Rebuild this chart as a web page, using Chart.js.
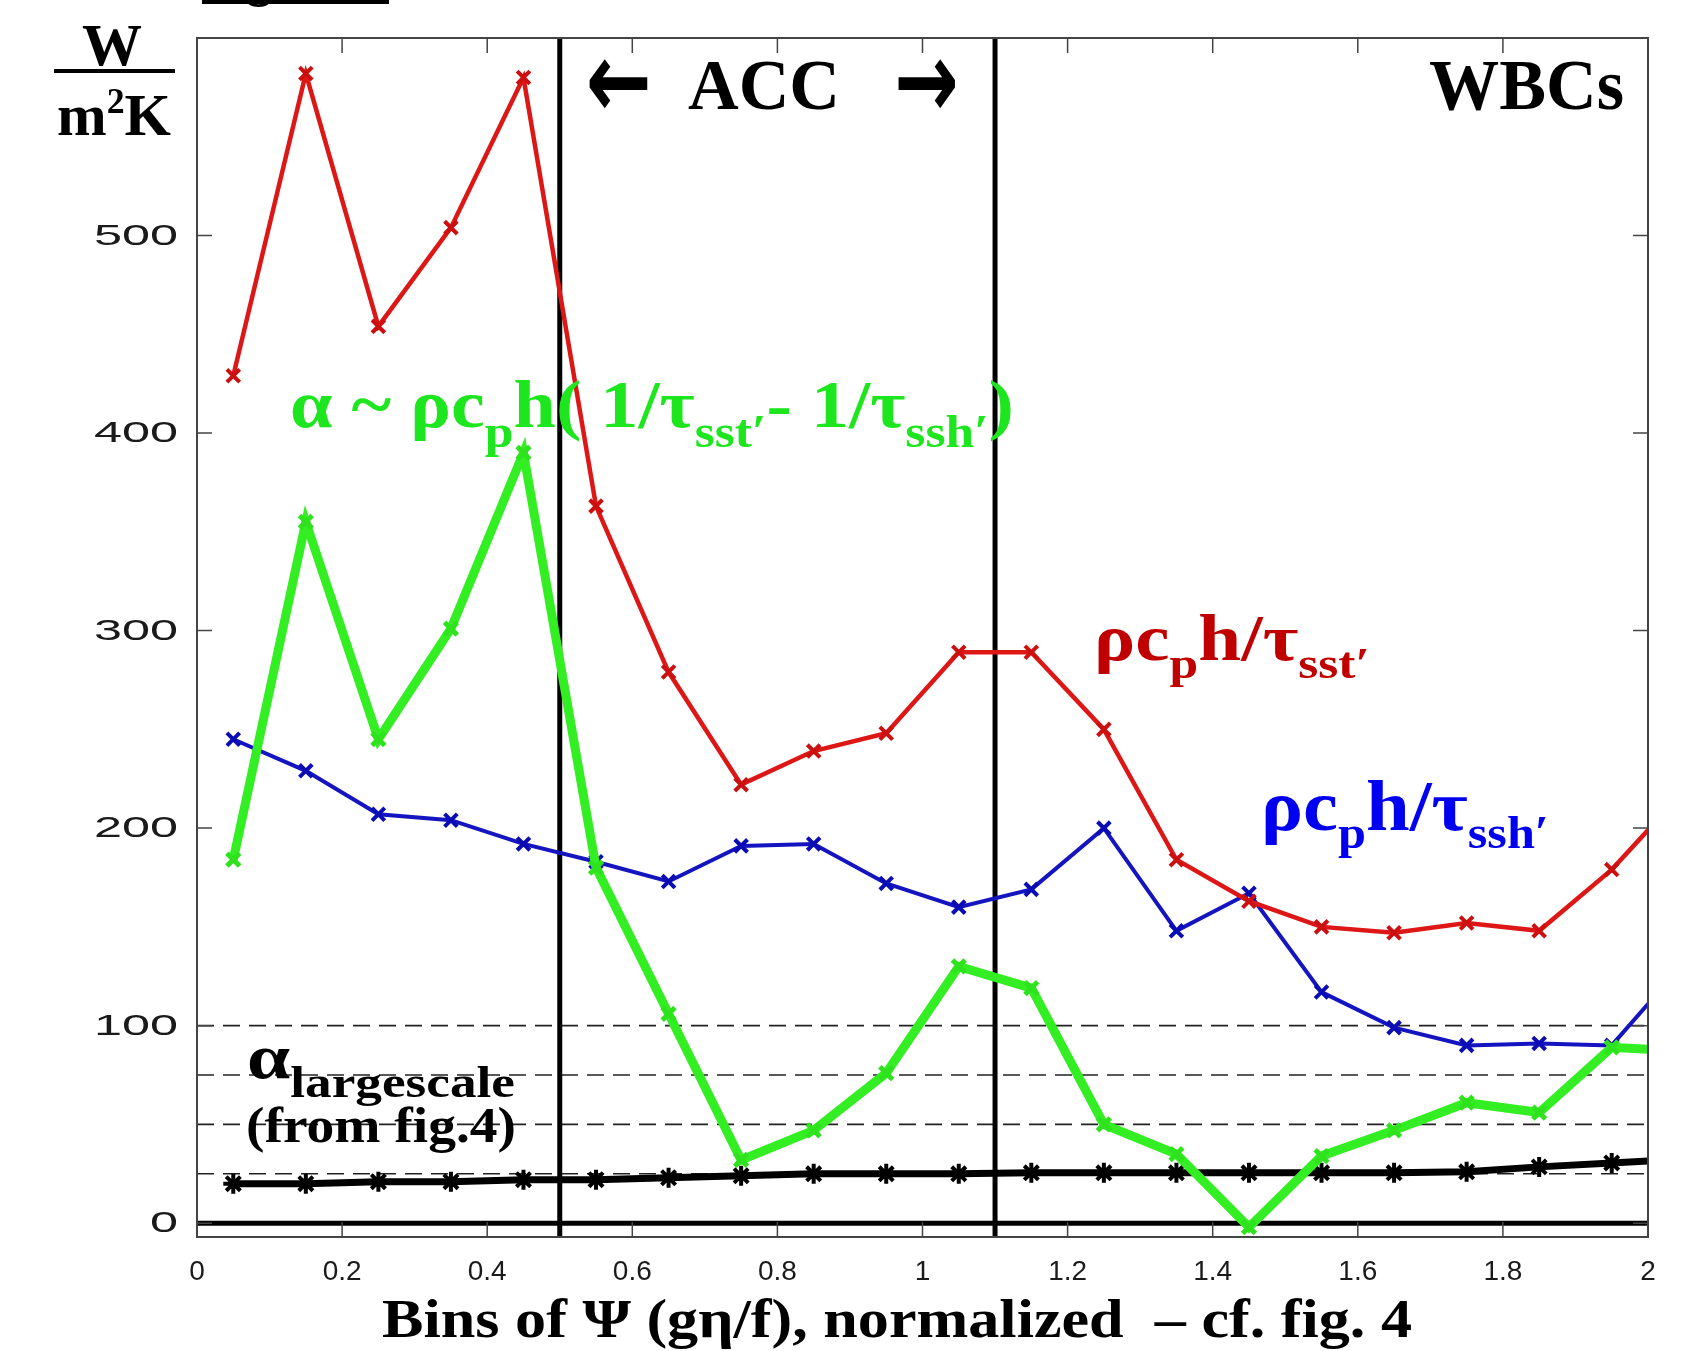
<!DOCTYPE html>
<html>
<head>
<meta charset="utf-8">
<script src="https://cdn.jsdelivr.net/npm/chart.js@4/dist/chart.umd.min.js"></script>
<style>
  html, body { margin: 0; padding: 0; background: #fff; }
  canvas { display: block; }
</style>
</head>
<body>
<canvas id="myChart" width="1691" height="1351"></canvas>
<script>
// bin centres of Psi (normalized); last one sits just past the right edge
const bins = [0.05, 0.15, 0.25, 0.35, 0.45, 0.55, 0.65, 0.75, 0.85, 0.95,
              1.05, 1.15, 1.25, 1.35, 1.45, 1.55, 1.65, 1.75, 1.85, 1.95, 2.05];

// rho cp h / tau_sst'  (red)
const sstRate = [429, 582, 454, 504, 580, 363, 279, 222, 239, 248,
                 289, 289, 250, 184, 163, 150, 147, 152, 148, 179, 219];
// rho cp h / tau_ssh'  (blue)
const sshRate = [245, 229, 207, 204, 192, 183, 173, 191, 192, 172,
                 160, 169, 200, 148, 167, 117, 99, 90, 91, 90, 132];
// alpha ~ difference (green)
const alphaDiff = [184, 355, 245, 301, 390, 180, 106, 32, 47, 76,
                   130, 119, 50, 35, -2, 34, 47, 61, 56, 89, 87];
// alpha largescale from fig.4 (black)
const alphaLarge = [20, 20, 21, 21, 22, 22, 23, 24, 25, 25,
                    25, 25.5, 25.5, 25.5, 25.5, 25.5, 25.5, 26, 28.5, 30.5, 32.5];

const xTicks = [0, 0.2, 0.4, 0.6, 0.8, 1, 1.2, 1.4, 1.6, 1.8, 2];
const yTicks = [0, 100, 200, 300, 400, 500];
const accBounds = [0.5, 1.1];          // vertical lines around the ACC
const dashLevels = [25, 50, 75, 100];  // dashed reference levels

const xMin = 0, xMax = 2, yMin = -7, yMax = 600;

const serif = '"Liberation Serif", "DejaVu Serif", serif';
const sans = '"Liberation Sans", Arial, sans-serif';

function pts(ys) {
  return bins.map((x, i) => ({x: x, y: ys[i]}));
}

let datasets = [
  {label: 'alpha', data: pts(alphaDiff), borderColor: '#33ee22', backgroundColor: '#33ee22',
   borderWidth: 9, pointStyle: 'crossRot', pointRadius: 9, pointBorderWidth: 5, pointBorderColor: '#2ee21e'},
  {label: 'sst', data: pts(sstRate), borderColor: '#dd1616', backgroundColor: '#dd1616',
   borderWidth: 4.5, pointStyle: 'crossRot', pointRadius: 9, pointBorderWidth: 4, pointBorderColor: '#cc1010'},
  {label: 'ssh', data: pts(sshRate), borderColor: '#1414c0', backgroundColor: '#1414c0',
   borderWidth: 4, pointStyle: 'crossRot', pointRadius: 9, pointBorderWidth: 4, pointBorderColor: '#0c0cb4'},
  {label: 'large', data: pts(alphaLarge), borderColor: '#000', backgroundColor: '#000',
   borderWidth: 7, pointStyle: 'star', pointRadius: 10, pointBorderWidth: 4}
];

// vertical ACC boundaries
accBounds.forEach(b => {
  datasets.push({data: [{x: b, y: yMin}, {x: b, y: yMax}], borderColor: '#000',
                 borderWidth: 5, pointRadius: 0});
});
// zero line
datasets.push({data: [{x: xMin, y: 0}, {x: xMax, y: 0}], borderColor: '#000',
               borderWidth: 5, pointRadius: 0});
// dashed levels
dashLevels.forEach(l => {
  datasets.push({data: [{x: xMin, y: l}, {x: xMax, y: l}], borderColor: '#222',
                 borderWidth: 1.6, borderDash: [17, 9], pointRadius: 0});
});

datasets.forEach(d => { d.clip = 0; d.tension = 0; d.fill = false; });

// draws a run of text pieces (with subscripts) squeezed into a given width
function drawRich(ctx, parts, x, y, width, color) {
  ctx.save();
  let total = 0;
  parts.forEach(p => {
    ctx.font = 'bold ' + p.size + 'px ' + (p.family || serif);
    p.w = ctx.measureText(p.t).width;
    total += p.w;
  });
  ctx.translate(x, y);
  ctx.scale(width / total, 1);
  ctx.fillStyle = color;
  ctx.textAlign = 'left';
  ctx.textBaseline = 'alphabetic';
  let cx = 0;
  parts.forEach(p => {
    ctx.font = 'bold ' + p.size + 'px ' + (p.family || serif);
    ctx.fillText(p.t, cx, p.dy || 0);
    cx += p.w;
  });
  ctx.restore();
}

// fits one glyph into a box (used for the heavy arrows)
function drawBox(ctx, t, font, left, top, w, h, color) {
  ctx.save();
  ctx.font = font;
  ctx.textAlign = 'left';
  ctx.textBaseline = 'alphabetic';
  const m = ctx.measureText(t);
  const gw = m.actualBoundingBoxLeft + m.actualBoundingBoxRight;
  const gh = m.actualBoundingBoxAscent + m.actualBoundingBoxDescent;
  ctx.translate(left, top);
  ctx.scale(w / gw, h / gh);
  ctx.fillStyle = color;
  ctx.fillText(t, m.actualBoundingBoxLeft, m.actualBoundingBoxAscent);
  ctx.restore();
}

const decor = {
  id: 'decor',
  afterDraw(chart) {
    const ctx = chart.ctx;
    const a = chart.chartArea;
    const xs = chart.scales.x, ys = chart.scales.y;

    // frame and inward ticks
    ctx.save();
    ctx.strokeStyle = '#444';
    ctx.lineWidth = 2;
    ctx.strokeRect(a.left, a.top, a.right - a.left, a.bottom - a.top);
    ctx.lineWidth = 1.5;
    ctx.beginPath();
    xTicks.forEach(v => {
      const px = xs.getPixelForValue(v);
      ctx.moveTo(px, a.bottom); ctx.lineTo(px, a.bottom - 15);
      ctx.moveTo(px, a.top); ctx.lineTo(px, a.top + 15);
    });
    yTicks.forEach(v => {
      const py = ys.getPixelForValue(v);
      ctx.moveTo(a.left, py); ctx.lineTo(a.left + 15, py);
      ctx.moveTo(a.right, py); ctx.lineTo(a.right - 15, py);
    });
    ctx.stroke();

    // y tick labels (wide, stretched look)
    ctx.fillStyle = '#1a1a1a';
    ctx.font = '30px ' + sans;
    ctx.textAlign = 'right';
    ctx.textBaseline = 'middle';
    yTicks.forEach(v => {
      const py = ys.getPixelForValue(v);
      ctx.save();
      ctx.translate(a.left - 19, py + 1);
      ctx.scale(1.68, 1);
      ctx.fillText(String(v), 0, 0);
      ctx.restore();
    });
    ctx.restore();

    // unit label W / m2K
    ctx.save();
    ctx.fillStyle = '#000';
    ctx.font = 'bold 60px ' + serif;
    ctx.textAlign = 'center';
    ctx.fillText('W', 112, 65);
    ctx.fillRect(54, 69, 121, 4);
    ctx.restore();
    drawRich(ctx, [{t: 'm', size: 60}, {t: '2', size: 36, dy: -22}, {t: 'K', size: 60}], 57, 135, 114, '#000');

    // clipped figure caption at the very top
    ctx.save();
    ctx.fillStyle = '#000';
    ctx.font = 'bold 50px ' + serif;
    ctx.textAlign = 'left';
    ctx.fillText('Figure 5', 202, -4);
    ctx.fillRect(202, 0, 187, 4);
    ctx.restore();

    // region labels
    const arrowFont = 'bold 100px "DejaVu Sans", sans-serif';
    drawBox(ctx, '\u2190', arrowFont, 589, 59, 59, 50, '#000');
    drawRich(ctx, [{t: 'ACC', size: 72}], 688, 109, 152, '#000');
    drawBox(ctx, '\u2192', arrowFont, 898, 59, 57, 50, '#000');
    drawRich(ctx, [{t: 'WBCs', size: 72}], 1429, 109, 195, '#000');

    // green formula
    drawRich(ctx, [
      {t: '\u03b1 ~ \u03c1c', size: 68},
      {t: 'p', size: 46, dy: 20},
      {t: 'h( 1/\u03c4', size: 68},
      {t: 'sst\u2032', size: 46, dy: 20},
      {t: '- 1/\u03c4', size: 68},
      {t: 'ssh\u2032', size: 46, dy: 20},
      {t: ')', size: 68}
    ], 290, 427, 724, '#1ee61e');

    // red label
    drawRich(ctx, [
      {t: '\u03c1c', size: 66},
      {t: 'p', size: 44, dy: 18},
      {t: 'h/\u03c4', size: 66},
      {t: 'sst\u2032', size: 44, dy: 18}
    ], 1094, 660, 276, '#c00000');

    // blue label
    drawRich(ctx, [
      {t: '\u03c1c', size: 72},
      {t: 'p', size: 46, dy: 18},
      {t: 'h/\u03c4', size: 72},
      {t: 'ssh\u2032', size: 46, dy: 18}
    ], 1261, 830, 288, '#0000f0');

    // alpha largescale
    drawRich(ctx, [
      {t: '\u03b1', size: 64},
      {t: 'largescale', size: 44, dy: 19}
    ], 247, 1078, 268, '#000');
    drawRich(ctx, [{t: '(from fig.4)', size: 50}], 246, 1142, 270, '#000');

    // x axis title
    drawRich(ctx, [{t: 'Bins of \u03a8 (g\u03b7/f), normalized  \u2013 cf. fig. 4', size: 54}],
             382, 1337, 1030, '#000');
  }
};

const myChart = document.getElementById('myChart');
let lineChart = new Chart(myChart, {
  type: 'line',
  data: {datasets: datasets},
  options: {
    responsive: false,
    animation: false,
    events: [],
    layout: {padding: {left: 0, top: 38, right: 43, bottom: 0}},
    plugins: {legend: {display: false}, tooltip: {enabled: false}, title: {display: false}},
    scales: {
      x: {
        type: 'linear', min: xMin, max: xMax,
        grid: {display: false, drawTicks: false},
        border: {display: false},
        afterBuildTicks: s => { s.ticks = xTicks.map(v => ({value: v})); },
        afterFit: s => { s.height = 114; },
        ticks: {
          padding: 18, color: '#1a1a1a', maxRotation: 0, autoSkip: false,
          font: {family: sans, size: 28},
          callback: v => String(+v.toFixed(1))
        }
      },
      y: {
        type: 'linear', min: yMin, max: yMax,
        grid: {display: false, drawTicks: false},
        border: {display: false},
        afterBuildTicks: s => { s.ticks = yTicks.map(v => ({value: v})); },
        afterFit: s => { s.width = 197; },
        ticks: {display: false}
      }
    }
  },
  plugins: [decor]
});
</script>
</body>
</html>
